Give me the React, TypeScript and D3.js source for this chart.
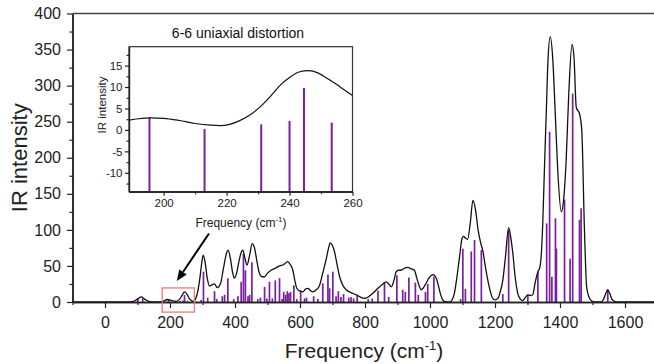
import { axisBottom, axisLeft, curveMonotoneX, line, scaleLinear, select } from "d3";
import { useEffect, useRef } from "react";

// stick spectrum (cm-1, IR intensity)
const stickFreq = [
  101, 116, 195.5, 213, 231, 240, 244.6, 253.4, 296, 303, 316, 337, 344, 361, 368, 378, 396, 409, 419,
  426, 432, 440, 445, 452, 470, 478, 491, 498, 506, 515, 524, 537, 545, 550, 556, 561, 566, 571, 581,
  590, 602, 614, 620, 642, 655, 670, 686, 691, 701, 711, 718, 726, 734, 750, 757, 765, 776, 810, 822,
  840, 860, 873, 898, 916, 924, 935, 955, 964, 986, 993, 1012, 1094, 1101, 1109, 1127, 1137, 1158,
  1224, 1242, 1301, 1332, 1359, 1368, 1375, 1386, 1389, 1414, 1431, 1439, 1460, 1465, 1547,
];
const stickInt = [
  5, 5, 2.9, 0.2, 1.3, 2.1, 9.8, 1.7, 3, 42, 6, 15, 4, 8, 10, 33, 4, 8, 28,
  67, 44, 8, 10, 55, 4, 6, 21, 5, 28, 5, 30, 33, 4, 14, 10, 15, 12, 14, 23,
  4, 16, 5, 6, 8, 4, 26, 38, 19, 42, 8, 15, 7, 11, 6, 7, 5, 10, 4, 5,
  16, 27, 7, 37, 17, 14, 34, 27, 10, 14, 25, 35, 4, 74, 18, 70, 86, 72,
  11, 100, 10, 42, 109, 236, 35, 116, 74, 142, 60, 289, 114, 130, 17,
];

// broadened spectrum
const curveFreq = [
  -100, 60, 85, 100, 111, 122, 137, 150, 175, 193, 205, 219, 230, 238, 245, 252, 262, 272, 283, 291,
  297, 302, 308, 315, 322, 330, 337, 345, 355, 365, 374, 379, 386, 393, 398, 405, 413, 420, 424, 430,
  437, 445, 453, 460, 468, 475, 483, 491, 500, 511, 525, 537, 550, 562, 570, 578, 584, 590, 600, 609,
  617, 624, 632, 639, 650, 660, 670, 681, 688, 693, 699, 706, 714, 722, 732, 742, 757, 773, 785, 798,
  810, 824, 835, 845, 855, 865, 873, 881, 889, 896, 904, 911, 922, 932, 942, 952, 960, 967, 973, 980,
  988, 998, 1009, 1017, 1024, 1031, 1039, 1047, 1060, 1068, 1075, 1083, 1091, 1098, 1103, 1110, 1116,
  1124, 1132, 1140, 1148, 1156, 1163, 1170, 1178, 1186, 1193, 1201, 1209, 1216, 1224, 1232, 1242, 1249,
  1255, 1262, 1270, 1278, 1285, 1293, 1301, 1309, 1316, 1324, 1332, 1338, 1342, 1347, 1352, 1358, 1363,
  1370, 1378, 1385, 1393, 1404, 1412, 1419, 1427, 1437, 1443, 1450, 1460, 1467, 1475, 1482, 1489, 1496,
  1505, 1527, 1535, 1541, 1547, 1553, 1560, 1568, 1580, 1700,
];
const curveInt = [
  0, 0, 0.5, 4, 7, 4, 0.5, 0, 0.5, 3.5, 2, 1, 4, 10, 14, 11, 3, 1, 10, 30,
  52, 65, 55, 32, 22, 24, 25, 20, 25, 48, 68, 72, 60, 40, 33, 40, 58, 70, 72, 62,
  51, 65, 81, 75, 55, 40, 35, 35, 40, 44, 47, 50, 52, 56, 52, 44, 30, 19, 15, 14,
  18, 19, 16, 14, 17, 23, 40, 60, 75, 82, 79, 70, 52, 35, 23, 17, 13, 10, 7, 5,
  7, 12, 17, 21, 25, 28, 25, 21, 30, 42, 44, 44, 47, 48, 46, 44, 32, 22, 17, 20,
  26, 34, 38, 35, 26, 13, 3, 0.5, 0, 3, 12, 35, 63, 87, 91, 88, 87,
  110, 141, 128, 100, 82, 70, 50, 30, 14, 5, 3, 5, 14, 30, 62, 103, 88,
  67, 35, 12, 4, 2, 6, 10, 9, 10, 28, 42, 48, 63, 110, 183, 266, 335,
  368, 335, 266, 183, 125, 146, 197, 289, 357, 340, 270, 261, 238, 104, 21, 7, 2,
  0, 0, 5, 12, 17, 12, 4, 1, 0, 0,
];

// inset: 6-6 uniaxial distortion
const insetCurveFreq = [189, 192, 196, 200, 205, 210, 215, 218, 221, 224, 227, 231, 234, 237, 240, 243, 246, 249, 252, 255, 258, 260];
const insetCurveInt = [2.3, 2.6, 2.8, 2.7, 2.2, 1.5, 1.1, 1.0, 1.3, 2.1, 3.3, 5.6, 7.9, 10.4, 12.2, 13.5, 13.8, 13.3, 12.0, 10.6, 9.0, 8.0];

const mainXTicks = [0, 200, 400, 600, 800, 1000, 1200, 1400, 1600];
const mainXMinor = [-100, 100, 300, 500, 700, 900, 1100, 1300, 1500, 1700];
const mainYTicks = [0, 50, 100, 150, 200, 250, 300, 350, 400];
const mainYMinor = [25, 75, 125, 175, 225, 275, 325, 375];
const insetXTicks = [200, 220, 240, 260];
const insetXMinor = [210, 230, 250];
const insetYTicks = [-10, -5, 0, 5, 10, 15];
const insetYMinor = [-12.5, -7.5, -2.5, 2.5, 7.5, 12.5, 17.5];

// zoom box and arrow, in data units of the main plot
const zoomBox = { x0: 176, x1: 275, y0: -14, y1: 19.5 };
const arrow = { x0: 320, y0: 95, x1: 221, y1: 29 };

const FONT = "'Liberation Sans', Arial, sans-serif";
const STICK = "#7a1fa2";
const AXIS = "#222";

export default function App() {
  const svgRef = useRef<SVGSVGElement | null>(null);

  useEffect(() => {
    if (!svgRef.current) return;
    const svg = select(svgRef.current);
    svg.selectAll("*").remove();

    const x = scaleLinear().domain([-100, 1700]).range([72.5, 657.5]);
    const y = scaleLinear().domain([0, 400]).range([302, 13.5]);
    const plain = (d: any) => String(d);

    const styleAxis = (g: any, size: number) => {
      g.attr("font-family", FONT).attr("font-size", size);
      g.selectAll("text").attr("fill", AXIS);
      g.selectAll("line").attr("stroke", AXIS).attr("stroke-width", 1.2);
      g.selectAll(".domain").attr("stroke", AXIS).attr("stroke-width", 1.5);
    };

    // top frame line
    svg
      .append("line")
      .attr("x1", x(-100))
      .attr("x2", 654)
      .attr("y1", y(400))
      .attr("y2", y(400))
      .attr("stroke", "#444")
      .attr("stroke-width", 1.6);

    // sticks
    svg
      .append("g")
      .selectAll("line")
      .data(stickFreq)
      .join("line")
      .attr("x1", (d) => x(d))
      .attr("x2", (d) => x(d))
      .attr("y1", y(0))
      .attr("y2", (_, i) => y(stickInt[i]))
      .attr("stroke", STICK)
      .attr("stroke-width", 1.7);

    const mainLine = line<number>()
      .x((d) => x(d))
      .y((_, i) => y(curveInt[i]))
      .curve(curveMonotoneX);
    svg
      .append("path")
      .attr("d", mainLine(curveFreq))
      .attr("fill", "none")
      .attr("stroke", "#111")
      .attr("stroke-width", 1.3);

    // axes
    const xMinor = svg.append("g").attr("transform", `translate(0,${y(0)})`)
      .call(axisBottom(x).tickValues(mainXMinor).tickSize(3).tickSizeOuter(0).tickFormat(() => ""));
    styleAxis(xMinor, 16);
    const xAxis = svg.append("g").attr("transform", `translate(0,${y(0)})`)
      .call(axisBottom(x).tickValues(mainXTicks).tickSize(6).tickSizeOuter(0).tickPadding(9).tickFormat(plain));
    styleAxis(xAxis, 16);

    const yMinor = svg.append("g").attr("transform", `translate(${x(-100)},0)`)
      .call(axisLeft(y).tickValues(mainYMinor).tickSize(3).tickSizeOuter(0).tickFormat(() => ""));
    styleAxis(yMinor, 16);
    const yAxis = svg.append("g").attr("transform", `translate(${x(-100)},0)`)
      .call(axisLeft(y).tickValues(mainYTicks).tickSize(5.5).tickSizeOuter(0).tickPadding(6).tickFormat(plain));
    styleAxis(yAxis, 16);

    svg
      .append("text")
      .attr("x", 364)
      .attr("y", 358)
      .attr("text-anchor", "middle")
      .attr("font-family", FONT)
      .attr("font-size", 21)
      .attr("fill", AXIS)
      .call((t) => {
        t.append("tspan").text("Frequency (cm");
        t.append("tspan").attr("font-size", 13).attr("dy", -8).text("-1");
        t.append("tspan").attr("dy", 8).text(")");
      });

    svg
      .append("text")
      .attr("transform", `translate(27,${(y(0) + y(400)) / 2}) rotate(-90)`)
      .attr("text-anchor", "middle")
      .attr("font-family", FONT)
      .attr("font-size", 22)
      .attr("fill", AXIS)
      .text("IR intensity");

    // zoom box + arrow
    svg
      .append("rect")
      .attr("x", x(zoomBox.x0))
      .attr("y", y(zoomBox.y1))
      .attr("width", x(zoomBox.x1) - x(zoomBox.x0))
      .attr("height", y(zoomBox.y0) - y(zoomBox.y1))
      .attr("fill", "none")
      .attr("stroke", "#f07a7a")
      .attr("stroke-width", 1.3);

    const ax0 = x(arrow.x0), ay0 = y(arrow.y0), ax1 = x(arrow.x1), ay1 = y(arrow.y1);
    const len = Math.hypot(ax1 - ax0, ay1 - ay0);
    const ux = (ax1 - ax0) / len, uy = (ay1 - ay0) / len;
    const headLen = 11, headW = 4.5;
    const bx = ax1 - ux * headLen, by = ay1 - uy * headLen;
    svg
      .append("line")
      .attr("x1", ax0)
      .attr("y1", ay0)
      .attr("x2", bx)
      .attr("y2", by)
      .attr("stroke", "#000")
      .attr("stroke-width", 2);
    svg
      .append("path")
      .attr("d", `M${ax1},${ay1}L${bx - uy * headW},${by + ux * headW}L${bx + uy * headW},${by - ux * headW}Z`)
      .attr("fill", "#000");

    // inset
    const xi = scaleLinear().domain([189, 260]).range([129, 352.5]);
    const yi = scaleLinear().domain([-14.4, 19.4]).range([191.7, 46.7]);
    const inset = svg.append("g");

    inset
      .append("rect")
      .attr("x", xi(189))
      .attr("y", yi(19.4))
      .attr("width", xi(260) - xi(189))
      .attr("height", yi(-14.4) - yi(19.4))
      .attr("fill", "#fff")
      .attr("stroke", "#333")
      .attr("stroke-width", 1.2);

    svg
      .append("clipPath")
      .attr("id", "inset-clip")
      .append("rect")
      .attr("x", xi(189))
      .attr("y", yi(19.4))
      .attr("width", xi(260) - xi(189))
      .attr("height", yi(-14.4) - yi(19.4));

    const insetFreq = stickFreq.filter((f) => f >= 189 && f <= 260);
    const insetInt = stickInt.filter((_, i) => stickFreq[i] >= 189 && stickFreq[i] <= 260);
    inset
      .append("g")
      .selectAll("line")
      .data(insetFreq)
      .join("line")
      .attr("x1", (d) => xi(d))
      .attr("x2", (d) => xi(d))
      .attr("y1", yi(-14.4))
      .attr("y2", (_, i) => yi(insetInt[i]))
      .attr("stroke", STICK)
      .attr("stroke-width", 2);

    const insetLine = line<number>()
      .x((d) => xi(d))
      .y((_, i) => yi(insetCurveInt[i]))
      .curve(curveMonotoneX);
    inset
      .append("path")
      .attr("clip-path", "url(#inset-clip)")
      .attr("d", insetLine(insetCurveFreq))
      .attr("fill", "none")
      .attr("stroke", "#111")
      .attr("stroke-width", 1.2);

    const ixMinor = inset.append("g").attr("transform", `translate(0,${yi(-14.4)})`)
      .call(axisBottom(xi).tickValues(insetXMinor).tickSize(2.5).tickSizeOuter(0).tickFormat(() => ""));
    styleAxis(ixMinor, 11);
    const ixAxis = inset.append("g").attr("transform", `translate(0,${yi(-14.4)})`)
      .call(axisBottom(xi).tickValues(insetXTicks).tickSize(4).tickSizeOuter(0).tickPadding(3).tickFormat(plain));
    styleAxis(ixAxis, 11.5);
    const iyMinor = inset.append("g").attr("transform", `translate(${xi(189)},0)`)
      .call(axisLeft(yi).tickValues(insetYMinor).tickSize(2.5).tickSizeOuter(0).tickFormat(() => ""));
    styleAxis(iyMinor, 11);
    const iyAxis = inset.append("g").attr("transform", `translate(${xi(189)},0)`)
      .call(axisLeft(yi).tickValues(insetYTicks).tickSize(4).tickSizeOuter(0).tickPadding(2.5).tickFormat(plain));
    styleAxis(iyAxis, 11.5);
    inset.selectAll(".domain").attr("stroke-width", 1.2);

    inset
      .append("text")
      .attr("x", 238)
      .attr("y", 38)
      .attr("text-anchor", "middle")
      .attr("font-family", FONT)
      .attr("font-size", 14)
      .attr("fill", "#111")
      .text("6-6 uniaxial distortion");

    inset
      .append("text")
      .attr("x", 241)
      .attr("y", 227)
      .attr("text-anchor", "middle")
      .attr("font-family", FONT)
      .attr("font-size", 12)
      .attr("fill", AXIS)
      .call((t) => {
        t.append("tspan").text("Frequency (cm");
        t.append("tspan").attr("font-size", 8).attr("dy", -5).text("-1");
        t.append("tspan").attr("dy", 5).text(")");
      });

    inset
      .append("text")
      .attr("transform", `translate(106,105) rotate(-90)`)
      .attr("text-anchor", "middle")
      .attr("font-family", FONT)
      .attr("font-size", 11.5)
      .attr("fill", AXIS)
      .text("IR intensity");
  }, []);

  return (
    <svg
      ref={svgRef}
      width={654}
      height={364}
      style={{ position: "absolute", left: 0, top: 0, background: "#fff" }}
      role="img"
      aria-label="IR spectrum with inset"
    />
  );
}
